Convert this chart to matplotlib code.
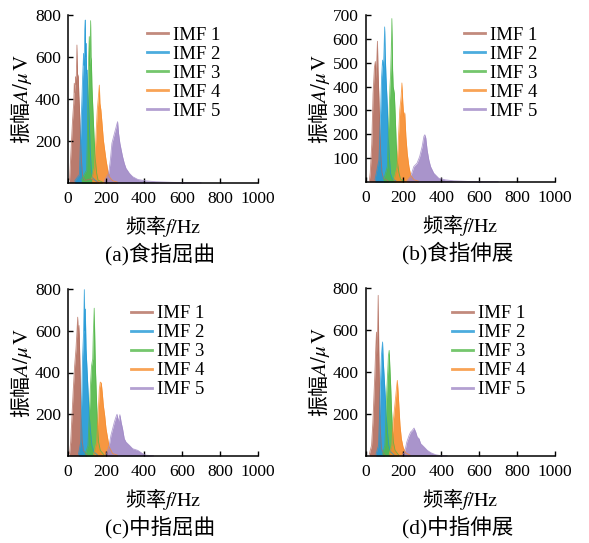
import numpy as np
import matplotlib.pyplot as plt

plt.rcParams['font.family'] = ['Liberation Serif', 'Noto Sans CJK SC']
plt.rcParams['mathtext.fontset'] = 'stix'

LABELS = ['IMF 1', 'IMF 2', 'IMF 3', 'IMF 4', 'IMF 5']
COLORS = ['#b36d5d', '#1f98d6', '#52b848', '#f78c2c', '#a088c6']
CAPTIONS = ['(a)食指屈曲', '(b)食指伸展', '(c)中指屈曲', '(d)中指伸展']
Y_MAX = [800, 700, 800, 800]
Y_STEP = [200, 100, 200, 200]
X_TICKS = [0, 200, 400, 600, 800, 1000]

# (a) 食指屈曲 -- frequency (Hz) / amplitude (uV) envelope of each IMF
FREQ_A = [
    [8, 16, 24, 30, 33, 37, 40, 43, 47, 50, 54, 57, 60, 64, 68, 72, 77, 90, 120, 160],
    [35, 60, 68, 74, 77, 82, 85, 88, 91, 93, 95, 98, 100, 105, 112, 117, 123, 130, 150],
    [70, 98, 103, 108, 112, 114, 116, 119, 121, 123, 126, 131, 137, 144, 151, 158, 180],
    [125, 140, 147, 154, 160, 165, 168, 173, 179, 186, 193, 200, 209, 217, 235, 260],
    [190, 214, 223, 231, 240, 249, 256, 261, 266, 273, 280, 287, 296, 305, 323, 340, 367, 410, 463, 550, 700],
]
AMP_A = [
    [15, 157, 300, 380, 475, 430, 506, 470, 657, 520, 506, 420, 364, 250, 157, 90, 30, 12, 20, 5],
    [10, 40, 268, 420, 506, 617, 560, 728, 776, 600, 665, 520, 538, 427, 300, 157, 62, 25, 8],
    [15, 62, 268, 586, 697, 560, 633, 773, 600, 586, 459, 348, 221, 110, 46, 14, 5],
    [20, 78, 221, 348, 411, 466, 380, 348, 284, 205, 157, 110, 62, 30, 11, 4],
    [8, 46, 110, 189, 221, 252, 276, 292, 237, 189, 157, 126, 94, 70, 46, 30, 17, 10, 6, 3, 1],
]

# (b) 食指伸展
FREQ_B = [
    [20, 25, 33, 40, 47, 52, 56, 60, 63, 66, 70, 75, 80, 87, 95, 120],
    [50, 71, 80, 85, 90, 95, 98, 101, 104, 108, 115, 120, 126, 132, 141, 160],
    [95, 115, 122, 129, 132, 136, 139, 143, 146, 152, 157, 162, 167, 176, 185, 200],
    [150, 167, 174, 181, 188, 192, 197, 202, 207, 213, 220, 229, 238, 255, 280],
    [220, 238, 255, 272, 286, 299, 308, 313, 318, 325, 334, 343, 360, 386, 421, 465, 550, 700],
]
AMP_B = [
    [5, 40, 160, 370, 480, 505, 430, 520, 590, 470, 370, 240, 120, 40, 15, 5],
    [10, 93, 302, 442, 511, 480, 560, 650, 539, 442, 320, 191, 107, 37, 15, 5],
    [8, 65, 233, 400, 442, 553, 685, 470, 400, 372, 275, 163, 93, 40, 12, 4],
    [8, 65, 191, 302, 358, 415, 330, 275, 290, 191, 121, 65, 30, 10, 3],
    [5, 23, 65, 79, 107, 149, 191, 198, 185, 135, 93, 65, 37, 16, 9, 5, 2, 1],
]

# (c) 中指屈曲
FREQ_C = [
    [8, 14, 21, 28, 35, 42, 47, 51, 54, 58, 63, 68, 74, 81, 100],
    [55, 67, 72, 77, 82, 86, 89, 91, 95, 100, 105, 112, 119, 126, 137, 155],
    [90, 105, 112, 119, 124, 130, 133, 138, 142, 145, 151, 156, 161, 170, 190],
    [135, 151, 158, 165, 170, 175, 180, 186, 193, 200, 209, 217, 235, 260],
    [200, 217, 226, 235, 244, 252, 258, 265, 273, 280, 287, 296, 305, 323, 340, 367, 393, 410, 450],
]
AMP_C = [
    [10, 67, 194, 322, 433, 513, 593, 665, 561, 625, 433, 226, 83, 27, 5],
    [8, 67, 274, 481, 593, 797, 600, 704, 513, 417, 322, 194, 115, 51, 19, 5],
    [8, 51, 194, 354, 433, 465, 577, 708, 513, 401, 242, 131, 67, 27, 5],
    [8, 67, 194, 322, 354, 350, 306, 242, 194, 131, 83, 43, 12, 4],
    [5, 51, 99, 131, 163, 186, 200, 163, 198, 160, 131, 83, 67, 51, 35, 27, 11, 4, 1],
]

# (d) 中指伸展
FREQ_D = [
    [20, 32, 39, 44, 49, 54, 58, 62, 67, 70, 74, 77, 84, 100],
    [55, 69, 74, 79, 84, 90, 93, 98, 104, 109, 116, 123, 134, 150],
    [90, 102, 107, 112, 118, 121, 125, 128, 132, 137, 142, 147, 156, 175],
    [125, 139, 146, 153, 160, 165, 168, 172, 177, 182, 189, 198, 212, 235],
    [195, 207, 218, 230, 238, 247, 256, 265, 273, 282, 291, 309, 326, 344, 370, 396, 430],
]
AMP_D = [
    [8, 51, 162, 273, 384, 511, 590, 479, 765, 511, 305, 146, 35, 5],
    [8, 51, 194, 352, 479, 543, 463, 384, 289, 194, 114, 51, 19, 5],
    [8, 51, 162, 305, 416, 479, 503, 432, 352, 225, 130, 67, 27, 5],
    [8, 51, 162, 225, 289, 337, 360, 305, 225, 146, 83, 43, 15, 4],
    [4, 20, 67, 98, 114, 122, 133, 114, 90, 83, 59, 43, 27, 16, 6, 2, 1],
]

FREQS = [FREQ_A, FREQ_B, FREQ_C, FREQ_D]
AMPS = [AMP_A, AMP_B, AMP_C, AMP_D]

W, H = 589, 543
# axes boxes in pixels: left, right, top, bottom
BOXES = [(68, 258, 15, 183), (365.5, 555, 15, 182),
         (68, 258, 289, 456), (365.5, 555, 288, 456)]
LEG_POS = [(147, 26.5), (464, 26.5), (131, 305), (452, 305)]


def px(x, y):
    return x / W, 1 - y / H


fig = plt.figure(figsize=(W / 100, H / 100), dpi=100)

for k in range(4):
    l, r, t, b = BOXES[k]
    ax = fig.add_axes([l / W, 1 - b / H, (r - l) / W, (b - t) / H])
    for i in range(5):
        f = np.array(FREQS[k][i])
        a = np.array(AMPS[k][i])
        ax.fill_between(f, 0, a, color=COLORS[i], alpha=0.9, lw=0)
        ax.plot(f, a, color=COLORS[i], lw=0.6, alpha=0.8, label=LABELS[i])

    ax.set_xlim(0, 1000)
    ax.set_ylim(0, Y_MAX[k])
    ax.set_xticks(X_TICKS)
    ax.set_yticks(np.arange(Y_STEP[k], Y_MAX[k] + 1, Y_STEP[k]))
    ax.spines['top'].set_visible(False)
    ax.spines['right'].set_visible(False)
    for s in ['left', 'bottom']:
        ax.spines[s].set_linewidth(1.1)
    ax.tick_params(direction='in', length=3.5, width=1.0, labelsize=12.5)
    ax.tick_params(axis='x', pad=6)
    ax.tick_params(axis='y', pad=5)

    leg = ax.legend(loc='upper left', bbox_to_anchor=px(*LEG_POS[k]),
                    bbox_transform=fig.transFigure, frameon=False,
                    fontsize=13.5, handlelength=1.1, handletextpad=0.3,
                    labelspacing=0.1, borderpad=0, borderaxespad=0)
    for ln in leg.get_lines():
        ln.set_linewidth(2)
        ln.set_alpha(0.8)

    cx = (l + r) / 2
    cy = (t + b) / 2
    fig.text(*px(l - 47, cy), '振幅$A/\\mu\\,\\mathrm{V}$', rotation=90,
             ha='center', va='center', fontsize=15, family='Noto Sans CJK SC')
    fig.text(*px(cx, b + 43), '频率$f/\\mathrm{Hz}$', ha='center', va='center',
             fontsize=14.5, family='Noto Sans CJK SC')
    fig.text(*px(cx - 3, b + 71), CAPTIONS[k], ha='center', va='center',
             fontsize=15.5)

fig.savefig('out.png', dpi=100)
